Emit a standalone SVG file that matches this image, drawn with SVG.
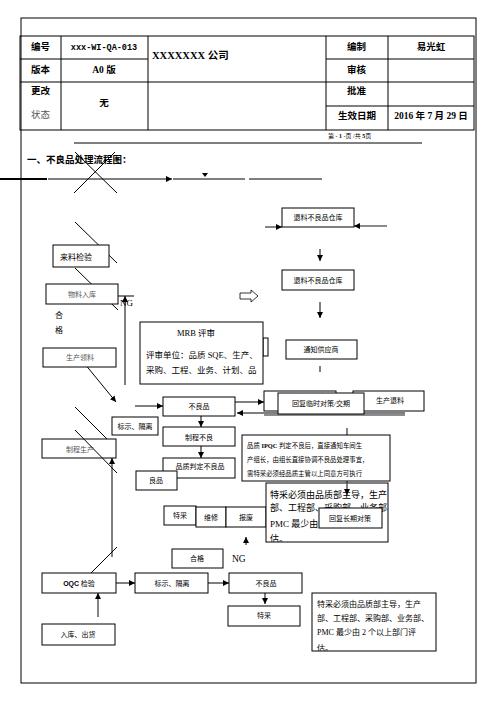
<svg xmlns="http://www.w3.org/2000/svg" width="496" height="702" viewBox="0 0 496 702">
<style>
text{font-family:"Liberation Serif","Noto Sans CJK SC",serif;fill:#000}
.h{font-family:"Noto Sans CJK SC","Liberation Sans",sans-serif;font-weight:bold;font-size:9.5px}
.t{font-size:7px;text-anchor:middle}
.g{fill:#555}
.b{fill:#fff;stroke:#000;stroke-width:1}
.l{stroke:#000;stroke-width:1;fill:none}
.gl{stroke:#666;stroke-width:1.6;fill:none}
</style>
<defs>
<marker id="a" markerWidth="6" markerHeight="6" refX="6" refY="3" orient="auto" markerUnits="userSpaceOnUse"><path d="M0,0 L6,3 L0,6 z" fill="#000"/></marker>
<clipPath id="c1"><rect x="140" y="322" width="123" height="62"/></clipPath>
<clipPath id="c2"><rect x="266" y="483" width="122" height="59"/></clipPath>
<clipPath id="c3"><rect x="312" y="593" width="124" height="58"/></clipPath>
</defs>
<rect width="496" height="702" fill="#fff"/>
<rect x="21" y="18" width="455" height="665" class="l"/>

<g id="header">
<rect x="20" y="36" width="454" height="94" class="l"/>
<path class="l" d="M61,36V130 M148,36V130 M326,36V130 M388,36V130 M20,59H148 M326,59H474 M20,82H474 M326,106H474"/>
<text x="31" y="50" class="h">编号</text>
<text x="104" y="50" class="h" style="font-family:'Liberation Mono',monospace;font-size:8.5px" text-anchor="middle">xxx-WI-QA-013</text>
<text x="152" y="59" class="h" style="font-size:10.5px;font-family:'Liberation Serif','Noto Sans CJK SC',serif">XXXXXXX 公司</text>
<text x="347" y="50" class="h">编制</text>
<text x="431" y="50" class="h" text-anchor="middle">易光虹</text>
<text x="31" y="73" class="h">版本</text>
<text x="104" y="73" class="h" text-anchor="middle" style="font-family:'Liberation Serif','Noto Sans CJK SC',serif">A0 版</text>
<text x="347" y="73" class="h">审核</text>
<text x="31" y="94" class="h">更改</text>
<text x="104" y="106" class="h" text-anchor="middle">无</text>
<text x="347" y="94" class="h">批准</text>
<text x="31" y="118" style="font-size:9.5px" class="g">状态</text>
<text x="338" y="119" class="h">生效日期</text>
<text x="431" y="119" class="h" text-anchor="middle" style="font-family:'Liberation Serif','Noto Sans CJK SC',serif">2016 年 7 月 29 日</text>
<text x="328" y="138" style="font-size:6px">第 - <tspan font-weight="bold">1</tspan> -页 /共 <tspan font-weight="bold">5</tspan>页</text>
<line x1="74" y1="143" x2="422" y2="143" class="l"/>
<text x="27" y="163" class="h" style="font-size:9.5px">一、不良品处理流程图：</text>
</g>

<g id="connectors">
<line x1="0" y1="179" x2="47" y2="179" stroke="#000" stroke-width="2"/>
<line x1="48" y1="179" x2="120" y2="179" class="l"/>
<line x1="120" y1="179" x2="172" y2="179" stroke="#555" stroke-width="1.3" marker-end="url(#a)"/>
<line x1="173" y1="179" x2="245" y2="179" class="l"/>
<polygon points="202,173 208,173 205,177" fill="#000"/>
<line x1="249" y1="179" x2="322" y2="179" class="l"/>
<path class="l" stroke-width="1.3" d="M75,152L117,193 M115,152L74,193"/>

<line x1="75" y1="222" x2="117" y2="263" class="l"/>
<line x1="75" y1="268" x2="118" y2="310" class="l"/>
<line x1="118" y1="296" x2="134" y2="296" class="l"/>
<line x1="125" y1="385" x2="125" y2="296" class="l" marker-end="url(#a)"/>
<line x1="80" y1="358" x2="116" y2="402" class="l" marker-end="url(#a)"/>
<path d="M240,293H251V290L258,296L251,302V299H240Z" fill="#fff" stroke="#000" stroke-width="0.8"/>

<line x1="265" y1="227" x2="282" y2="227" class="gl" marker-end="url(#a)"/>
<line x1="387" y1="226" x2="354" y2="226" class="gl" marker-end="url(#a)"/>
<line x1="320" y1="249" x2="320" y2="261" class="l" marker-end="url(#a)"/>
<line x1="320" y1="302" x2="320" y2="318" class="l" marker-end="url(#a)"/>
<line x1="320" y1="366" x2="320" y2="372" class="l"/>

<line x1="135" y1="406" x2="163" y2="406" class="l" marker-end="url(#a)"/>
<line x1="201" y1="416" x2="201" y2="427" class="l" marker-end="url(#a)"/>
<line x1="201" y1="446" x2="201" y2="458" class="l" marker-end="url(#a)"/>
<line x1="235" y1="402" x2="264" y2="402" class="l" marker-end="url(#a)"/>
<line x1="405" y1="413" x2="237" y2="413" class="l" marker-end="url(#a)"/>
<line x1="264" y1="415" x2="405" y2="415" class="gl"/>
<line x1="75" y1="407" x2="116" y2="448" class="l" marker-end="url(#a)"/>
<line x1="112" y1="557" x2="112" y2="458" class="l" marker-end="url(#a)"/>
<line x1="91" y1="573" x2="117" y2="547" class="l"/>
<line x1="347" y1="428" x2="347" y2="495" stroke="#666" stroke-width="1.6" marker-end="url(#a)"/>
<line x1="246" y1="545" x2="246" y2="537" class="l" marker-end="url(#a)"/>

<line x1="116" y1="583" x2="135" y2="583" class="l" marker-end="url(#a)"/>
<line x1="208" y1="583" x2="229" y2="583" class="l" marker-end="url(#a)"/>
<line x1="265" y1="593" x2="265" y2="604" class="l" marker-end="url(#a)"/>
<line x1="98" y1="617" x2="98" y2="593" stroke="#666" stroke-width="1.6" marker-end="url(#a)"/>
</g>

<g id="n-laiLiao"><rect x="53" y="245" width="56" height="22" class="b"/><text x="60" y="260" style="font-size:8px">来料检验</text></g>
<g id="n-wuliao"><rect x="46" y="284" width="72" height="20" class="b"/><text x="82" y="297" class="t g">物料入库</text></g>
<text x="120" y="306" style="font-size:9px">NG</text>
<text x="55" y="318" style="font-size:8px">合</text>
<text x="55" y="333" style="font-size:8px">格</text>
<g id="n-lingliao"><rect x="43" y="348" width="73" height="19" class="b"/><text x="80" y="360" class="t g">生产领料</text></g>

<g id="n-mrb">
<rect x="263" y="338" width="5" height="18" class="b"/>
<rect x="140" y="322" width="123" height="62" class="b"/>
<g clip-path="url(#c1)" style="font-size:8.5px">
<text x="177" y="336">MRB 评审</text>
<text x="146" y="358">评审单位：品质 SQE、生产、</text>
<text x="146" y="373">采购、工程、业务、计划、品</text>
</g>
</g>

<g id="n-tuiliao1"><rect x="282" y="208" width="72" height="19" class="b"/><text x="318" y="220" class="t">退料不良品仓库</text></g>
<g id="n-tuiliao2"><rect x="282" y="270" width="72" height="20" class="b"/><text x="318" y="283" class="t">退料不良品仓库</text></g>
<g id="n-tongzhi"><rect x="286" y="340" width="71" height="19" class="b"/><text x="321" y="352" class="t">通知供应商</text></g>

<g id="n-back"><rect x="264" y="391" width="72" height="20" class="b"/></g>
<g id="n-tuiliao3"><rect x="353" y="391" width="71" height="20" class="b"/><text x="390" y="403" class="t">生产退料</text></g>
<g id="n-huifu1"><rect x="278" y="393" width="86" height="21" class="b"/><text x="321" y="406" class="t">回复临时对策/交期</text></g>

<g id="n-buliang"><rect x="163" y="397" width="72" height="19" class="b"/><text x="199" y="409" class="t">不良品</text></g>
<g id="n-biaoshi"><rect x="112" y="417" width="46" height="18" class="b"/><text x="135" y="429" class="t">标示、隔离</text></g>
<g id="n-zhicheng"><rect x="163" y="427" width="72" height="19" class="b"/><text x="199" y="440" class="t">制程不良</text></g>
<g id="n-zcsc"><rect x="42" y="439" width="74" height="19" class="b"/><text x="80" y="452" class="t g">制程生产</text></g>
<line x1="75" y1="430" x2="117" y2="473" class="l"/>
<g id="n-pinzhi"><rect x="163" y="458" width="72" height="20" class="b"/><text x="200" y="469" class="t">品质判定不良品</text></g>
<g id="n-liangpin"><rect x="136" y="471" width="41" height="19" class="b"/><text x="156" y="483" class="t">良品</text></g>

<g id="n-ipqc"><rect x="242" y="435" width="148" height="46" class="b"/>
<g style="font-size:6.4px"><text x="247" y="448">品质 <tspan font-weight="bold">IPQC</tspan> 判定不良后，直接通知车间生</text>
<text x="247" y="462">产组长，由组长直接协调不良品处理事宜，</text>
<text x="247" y="476">需特采必须经品质主管以上同意方可执行</text></g></g>

<g id="n-tecai1"><rect x="164" y="506" width="32" height="19" class="b"/><text x="180" y="518" class="t">特采</text></g>
<g id="n-weixiu"><rect x="196" y="507" width="30" height="20" class="b"/><text x="211" y="520" class="t">维修</text></g>
<g id="n-baofei"><rect x="226" y="507" width="40" height="20" class="b"/><text x="246" y="520" class="t">报废</text></g>

<g id="n-note1"><rect x="266" y="483" width="122" height="59" class="b"/>
<g clip-path="url(#c2)" style="font-size:9px"><text x="270" y="498">特采必须由品质部主导，生产</text>
<text x="270" y="511">部、工程部、采购部、业务部、</text>
<text x="270" y="527">PMC 最少由</text>
<text x="270" y="542">估。</text></g></g>
<line x1="347" y1="483" x2="347" y2="495" stroke="#666" stroke-width="1.6" marker-end="url(#a)"/>
<g id="n-huifu2"><rect x="319" y="508" width="63" height="20" class="b"/><text x="350" y="521" class="t">回复长期对策</text></g>

<g id="n-hege"><rect x="172" y="549" width="51" height="19" class="b"/><text x="197" y="561" class="t">合格</text></g>
<text x="232" y="562" style="font-size:9.5px">NG</text>

<g id="n-oqc"><rect x="42" y="573" width="74" height="20" class="b"/><text x="79" y="586" class="t"><tspan font-family="Liberation Sans" font-weight="bold">OQC</tspan> 检验</text></g>
<g id="n-biaoshi2"><rect x="135" y="573" width="73" height="20" class="b"/><text x="172" y="586" class="t">标示、隔离</text></g>
<g id="n-buliang2"><rect x="229" y="573" width="73" height="20" class="b"/><text x="266" y="586" class="t">不良品</text></g>
<g id="n-tecai2"><rect x="228" y="606" width="72" height="20" class="b"/><text x="264" y="618" class="t">特采</text></g>
<g id="n-ruku"><rect x="42" y="624" width="73" height="21" class="b"/><text x="78" y="637" class="t">入库、出货</text></g>

<g id="n-note2"><rect x="312" y="593" width="124" height="58" class="b"/>
<g clip-path="url(#c3)" style="font-size:8px"><text x="317" y="607">特采必须由品质部主导，生产</text>
<text x="317" y="621">部、工程部、采购部、业务部、</text>
<text x="317" y="635">PMC 最少由 2 个以上部门评</text>
<text x="317" y="651">估。</text></g></g>
</svg>
